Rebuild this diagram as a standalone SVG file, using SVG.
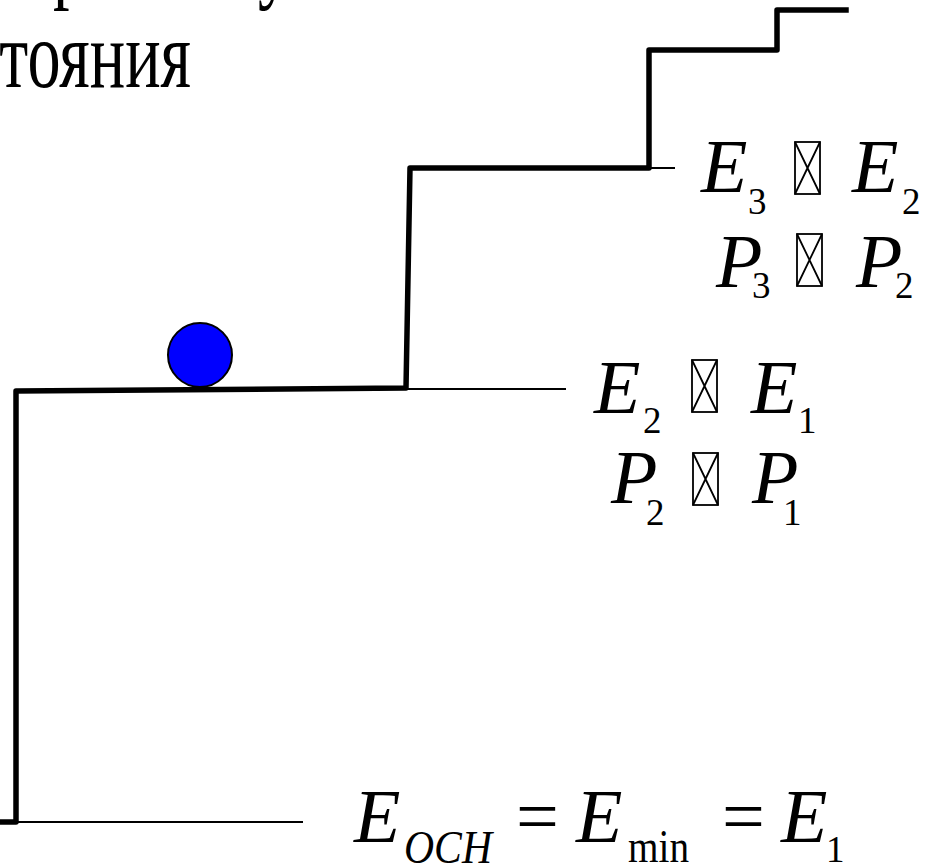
<svg xmlns="http://www.w3.org/2000/svg" width="929" height="864" viewBox="0 0 929 864">
<style>
.i{font-style:italic}
.big{font-size:76px}
.sub{font-size:37px}
.sub2{font-size:47px}
.thick{fill:none;stroke:#000;stroke-width:5.5;stroke-linejoin:round;stroke-linecap:square}
.thin{fill:none;stroke:#000;stroke-width:2}
.tofu{fill:none;stroke:#000;stroke-width:1.8}
</style>
<defs>
<g id="tofu">
<rect class="tofu" x="0" y="0" width="25" height="52"/>
<path class="tofu" d="M0 0 L25 52 M25 0 L0 52"/>
</g>
</defs>
<rect width="929" height="864" fill="#fff"/>
<g id="title" transform="scale(0.69,1)" font-family="Liberation Serif, Times New Roman, serif" fill="#000">
<text font-size="96" x="77 374" y="-9">ру</text>
<text font-size="96" x="-1" y="87">тояния</text>
</g>
<g id="connectors">
<path class="thick" d="M0 822 L16 822 L16 391 L406 388 L410 168 L649 168 L649 50 L777 50 L777 10 L846 10"/>
<path class="thin" d="M16 822 H303 M406 389 H566 M649 168 H675"/>
</g>
<g id="ball">
<circle cx="200" cy="355" r="32" fill="#0000ff" stroke="#000" stroke-width="2"/>
</g>
<g font-family="Liberation Serif, Times New Roman, serif" fill="#000">
<g id="label-e3-e2">
<text class="big i" x="701" y="192">E</text>
<text class="sub" x="748" y="214">3</text>
<use href="#tofu" x="795" y="142"/>
<text class="big i" x="852" y="192">E</text>
<text class="sub" x="902" y="214">2</text>
</g>
<g id="label-p3-p2">
<text class="big i" x="716" y="287">P</text>
<text class="sub" x="752" y="298">3</text>
<use href="#tofu" x="797" y="234"/>
<text class="big i" x="856" y="287">P</text>
<text class="sub" x="895" y="298">2</text>
</g>
<g id="label-e2-e1">
<text class="big i" x="594" y="413">E</text>
<text class="sub" x="643" y="433">2</text>
<use href="#tofu" x="692" y="360"/>
<text class="big i" x="751" y="413">E</text>
<text class="sub" x="798" y="433">1</text>
</g>
<g id="label-p2-p1">
<text class="big i" x="611" y="503">P</text>
<text class="sub" x="646" y="525">2</text>
<use href="#tofu" x="693" y="453"/>
<text class="big i" x="752" y="503">P</text>
<text class="sub" x="783" y="525">1</text>
</g>
<g id="label-eoch">
<text class="big i" x="354" y="842">E</text>
<text class="sub2 i" x="404" y="863" textLength="88" lengthAdjust="spacingAndGlyphs">OCH</text>
<text class="big" x="516" y="842">=</text>
<text class="big i" x="576" y="842">E</text>
<text class="sub2" x="628" y="862" textLength="61" lengthAdjust="spacingAndGlyphs">min</text>
<text class="big" x="722" y="842">=</text>
<text class="big i" x="781" y="842">E</text>
<text class="sub" x="826" y="862">1</text>
</g>
</g>
</svg>
